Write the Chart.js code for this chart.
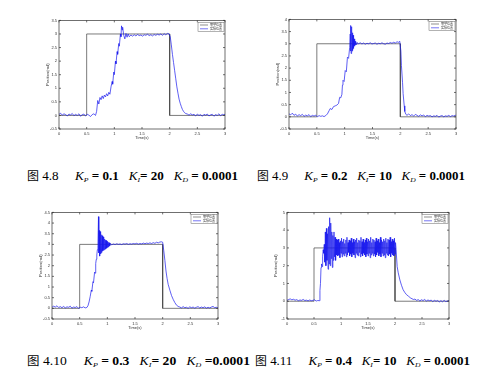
<!DOCTYPE html>
<html>
<head>
<meta charset="utf-8">
<script src="https://cdn.jsdelivr.net/npm/chart.js@4.4.0/dist/chart.umd.min.js"></script>
<style>
body { margin: 0; background: #fff; width: 500px; height: 369px; overflow: hidden; position: relative; }
canvas { position: absolute; }
.cap { position: absolute; font-family: 'Liberation Serif', 'Noto Sans CJK SC', serif; font-size: 12px; line-height: 12px; color: #000; white-space: pre; transform-origin: 0 50%; }
.cap b { font-weight: bold; }
.cap i { font-style: italic; }
.cap sub { font-style: italic; font-size: 7px; vertical-align: -2px; line-height: 0; }
.cap .zh { font-family: 'Noto Sans CJK SC', sans-serif; font-size: 11px; }
</style>
</head>
<body>
<script>
// setpoint signal, same in all four runs
const stepTime = [0, 0.5, 0.5, 2, 2, 3];
const stepLevel = [0, 0, 3, 3, 0, 0];

// Fig 4.8  Kp=0.1 Ki=20
const p1Time = [
  0,0.03,0.06,0.09,0.12,0.15,0.18,0.21,0.24,0.27,0.3,0.33,0.36,0.39,0.42,0.45,0.48,0.51,0.54,0.57,0.6,0.63,0.66,
  0.68,0.7,0.72,0.74,0.76,0.78,0.8,0.82,0.84,0.86,0.88,0.9,0.92,0.94,0.96,0.97,0.99,1,1.02,1.03,1.05,1.06,1.08,1.09,1.11,1.12,1.13,1.14,1.15,1.17,1.19,1.21,1.23,1.25,1.27,
  1.3,1.33,1.36,1.39,1.42,1.45,1.48,1.51,1.54,1.57,1.6,1.63,1.66,1.69,1.72,1.75,1.78,1.81,1.84,1.87,1.9,1.93,1.96,1.99,
  2.01,2.03,2.05,2.07,2.09,2.11,2.13,2.15,2.17,2.19,2.21,2.23,2.25,2.27,2.29,
  2.32,2.35,2.38,2.41,2.44,2.47,2.5,2.53,2.56,2.59,2.62,2.65,2.68,2.71,2.74,2.77,2.8,2.83,2.86,2.89,2.92,2.95,2.98,3
];
const p1Resp = [
  0.04,0.08,0.01,0.06,0.03,-0.02,0.05,0.02,0.07,-0.01,0.04,0,0.06,-0.03,0.03,0.05,-0.02,0.04,0.01,-0.04,0.03,0.06,0,
  0.15,0.55,0.42,0.66,0.58,0.72,0.62,0.75,0.68,0.8,0.72,0.85,0.78,1.05,1.25,1.15,1.6,1.5,2,1.9,2.35,2.25,2.65,2.55,3,2.9,3.3,3.15,3.25,2.95,2.82,3.02,2.88,3,2.9,
  2.96,2.92,2.97,2.93,2.98,2.94,2.96,2.92,2.97,2.95,2.99,2.94,2.97,2.93,2.98,2.95,2.99,2.96,3,2.95,3.01,2.97,3.02,3,
  2.9,2.6,2.25,1.95,1.65,1.35,1.05,0.82,0.6,0.45,0.33,0.22,0.15,0.1,0.07,
  0.05,0.01,0.06,0.02,0.04,-0.02,0.05,0,0.03,-0.03,0.04,0.01,0.05,-0.02,0.02,0.04,-0.03,0.03,0,0.06,-0.01,0.04,0.02,0.05
];

// Fig 4.9  Kp=0.2 Ki=10
const p2Time = [
  0,0.03,0.06,0.09,0.12,0.15,0.18,0.21,0.24,0.27,0.3,0.33,0.36,0.39,0.42,0.45,0.48,0.51,0.54,0.57,0.6,0.63,
  0.66,0.69,0.72,0.74,0.77,0.8,0.83,0.86,0.89,0.91,0.93,0.95,0.96,0.97,0.99,1.01,1.03,1.05,1.07,1.09,
  1.1,1.105,1.11,1.115,1.12,1.125,1.13,1.135,1.14,1.145,1.15,1.155,1.16,1.165,1.17,1.175,1.18,1.185,1.19,1.195,1.2,1.21,1.22,
  1.25,1.28,1.31,1.34,1.37,1.4,1.43,1.46,1.49,1.52,1.55,1.58,1.61,1.64,1.67,1.7,1.73,1.76,1.79,1.82,1.85,1.88,1.91,1.94,1.97,1.99,
  2.01,2.02,2.04,2.05,2.07,2.08,2.1,2.12,
  2.15,2.18,2.21,2.24,2.27,2.3,2.33,2.36,2.39,2.42,2.45,2.48,2.51,2.54,2.57,2.6,2.63,2.66,2.69,2.72,2.75,2.78,2.81,2.84,2.87,2.9,2.93,2.96,2.99,3
];
const p2Resp = [
  0.12,0.08,0.15,0.06,0.11,0.03,0.09,0.05,0.1,0.02,0.07,0.04,0.09,0.01,0.06,0.03,0.07,0,0.05,0.02,0.04,0.01,
  0.05,0.12,0.25,0.34,0.3,0.42,0.45,0.48,0.55,0.8,0.78,0.92,1.3,1.5,1.45,1.9,1.85,2.45,2.4,2.85,
  3.4,2.7,3.75,2.6,3.7,2.65,3.55,2.7,3.45,2.75,3.35,2.8,3.25,2.85,3.2,2.9,3.15,2.93,3.1,2.95,3.08,2.97,3.05,
  3,3.04,2.99,3.03,2.98,3.02,3,3.04,2.99,3.01,3.03,2.98,3.02,3,3.04,3,2.98,3.03,3.01,3.05,3.02,3.06,3.03,3.08,3.06,3.1,
  2.7,2.1,1.4,0.95,0.45,0.22,0.1,0.06,
  0.12,0.05,0.09,0.03,0.1,0.06,0.02,0.08,0.04,0.07,0.01,0.06,0.03,0.05,0,0.04,0.02,0.06,-0.01,0.03,0.05,0,0.04,0.02,0.06,0.01,0.05,0.03,0.07,0.04
];

// Fig 4.10  Kp=0.3 Ki=20
const p3Time = [
  0,0.03,0.06,0.09,0.12,0.15,0.18,0.21,0.24,0.27,0.3,0.33,0.36,0.39,0.42,0.45,0.48,0.51,0.54,0.57,0.6,0.63,
  0.65,0.67,0.69,0.71,0.72,0.74,0.75,0.77,0.78,0.79,0.8,0.81,0.82,0.83,0.84,
  0.847,0.854,0.861,0.868,0.875,0.882,0.889,0.896,0.903,0.91,0.917,0.924,0.931,0.938,0.945,0.952,0.959,0.966,0.973,0.98,
  0.987,0.994,1.001,1.008,1.015,1.022,1.029,1.036,1.043,1.05,
  1.08,1.11,1.14,1.17,1.2,1.23,1.26,1.29,1.32,1.35,1.38,1.41,1.44,1.47,1.5,1.53,1.56,1.59,1.62,1.65,
  1.68,1.71,1.74,1.77,1.8,1.83,1.86,1.89,1.92,1.95,1.98,2,
  2.02,2.04,2.06,2.08,2.1,2.13,2.16,2.19,2.22,2.25,2.28,
  2.31,2.34,2.37,2.4,2.43,2.46,2.49,2.52,2.55,2.58,2.61,2.64,2.67,2.7,2.73,2.76,2.79,2.82,2.85,2.88,2.91,2.94,2.97,3
];
const p3Resp = [
  0.05,0.1,0.06,0.12,0.04,0.08,0.03,0.09,0.02,0.07,0.05,0.1,0.01,0.06,0.04,0.08,0,0.05,0.03,0.07,0.02,0.04,
  0.12,0.3,0.55,0.85,0.8,1.25,1.2,1.7,1.65,2.1,2.3,2.5,2.75,2.95,4.3,
  2.6,3.65,2.45,3.6,2.55,3.5,2.6,3.45,2.65,3.4,2.7,3.35,2.72,3.3,2.75,3.25,2.78,3.2,2.8,3.18,
  2.82,3.14,2.85,3.12,2.88,3.1,2.9,3.07,2.93,3.05,
  2.98,3.02,2.99,3.03,3,3.02,2.99,3.03,3.01,3.04,3,3.03,3.01,3.04,3.02,3.05,3.01,3.04,3.02,3.06,
  3.03,3.06,3.04,3.07,3.04,3.08,3.05,3.1,3.07,3.11,3.12,3.1,
  2.7,2.25,1.75,1.4,1.12,0.85,0.6,0.42,0.27,0.15,0.09,
  0.06,0.02,0.08,0.03,0.05,0,0.07,0.03,0.06,0.01,0.05,0.08,0.02,0.06,0.03,0.07,0.01,0.05,0.02,0.06,0.09,0.03,0.05,0.02
];

// Fig 4.11  Kp=0.4 Ki=10
const p4Time = [
  0,0.03,0.06,0.09,0.12,0.15,0.18,0.21,0.24,0.27,0.3,0.33,0.36,0.39,0.42,0.45,0.48,0.51,0.54,0.57,
  0.6,0.61,0.62,0.63,0.64,0.65,0.66,0.67,0.68,0.69,
  0.7,0.71,0.72,0.73,0.74,0.75,0.76,0.77,0.78,0.79,
  0.8,0.81,0.82,0.83,0.84,0.85,0.86,0.87,0.88,0.89,
  0.9,0.91,0.92,0.93,0.94,0.95,0.96,0.97,0.98,0.99,
  1,1.01,1.02,1.03,1.04,1.05,1.06,1.07,1.08,1.09,
  1.1,1.11,1.12,1.13,1.14,1.15,1.16,1.17,1.18,1.19,
  1.2,1.21,1.22,1.23,1.24,1.25,1.26,1.27,1.28,1.29,
  1.3,1.31,1.32,1.33,1.34,1.35,1.36,1.37,1.38,1.39,
  1.4,1.41,1.42,1.43,1.44,1.45,1.46,1.47,1.48,1.49,
  1.5,1.51,1.52,1.53,1.54,1.55,1.56,1.57,1.58,1.59,
  1.6,1.61,1.62,1.63,1.64,1.65,1.66,1.67,1.68,1.69,
  1.7,1.71,1.72,1.73,1.74,1.75,1.76,1.77,1.78,1.79,
  1.8,1.81,1.82,1.83,1.84,1.85,1.86,1.87,1.88,1.89,
  1.9,1.91,1.92,1.93,1.94,1.95,1.96,1.97,1.98,1.99,
  2,2.01,
  2.02,2.04,2.06,2.09,2.12,2.15,2.18,2.21,2.25,2.29,2.34,
  2.37,2.4,2.43,2.46,2.49,2.52,2.55,2.58,2.61,2.64,2.67,2.7,2.73,2.76,2.79,2.82,2.85,2.88,2.91,2.94,2.97,3
];
const p4Resp = [
  0.05,0.1,0.13,0.08,0.11,0.06,0.09,0.03,0.07,0.05,0.1,0.04,0.06,0.02,0.07,0.03,0.05,0.08,0.01,0.04,
  0.03,0.6,1,1.9,2.1,1.95,2.5,2.9,2.7,3.2,
  2.2,3.9,2,4.1,2.3,3.8,1.8,4.2,2.1,4.7,
  2,4.4,2.4,3.9,1.9,3.7,2.3,3.9,2.5,3.6,
  2.3,3.5,2.6,3.45,2.55,3.5,2.6,3.3,2.45,3.4,
  2.7,3.55,2.5,3.35,2.65,3.5,2.55,3.25,2.7,3.45,
  2.5,3.6,2.6,3.3,2.75,3.45,2.55,3.4,2.65,3.55,
  2.5,3.3,2.7,3.5,2.6,3.35,2.45,3.45,2.7,3.55,
  2.6,3.3,2.55,3.45,2.75,3.4,2.5,3.6,2.65,3.35,
  2.55,3.5,2.7,3.3,2.6,3.45,2.5,3.55,2.65,3.35,
  2.55,3.5,2.7,3.4,2.45,3.6,2.6,3.3,2.7,3.5,
  2.55,3.45,2.65,3.35,2.5,3.55,2.6,3.4,2.75,3.5,
  2.55,3.3,2.65,3.6,2.5,3.45,2.7,3.35,2.55,3.5,
  2.6,3.4,2.45,3.55,2.7,3.3,2.6,3.5,2.55,3.45,
  2.65,3.6,2.5,3.35,2.7,3.5,2.6,3.4,2.55,3.55,
  2.65,3.3,
  2.9,1.95,1.6,1.2,0.9,0.65,0.5,0.38,0.28,0.18,0.1,
  0.12,0.05,0.09,0.02,0.08,0.04,0.1,0.01,0.07,0.03,0.06,-0.02,0.05,0,0.04,-0.04,0.03,-0.03,0.05,-0.02,0.01,0.04
];

// y axis [min, max, step] per figure
const p1Y = [-0.5, 3.5, 0.5];
const p2Y = [-0.5, 4, 0.5];
const p3Y = [-0.5, 4.5, 0.5];
const p4Y = [-1, 5, 1];

const legendNames = ['期望位置', '实际位置'];

// figure captions: number, Kp, Ki, Kd
const figNums = ['4.8', '4.9', '4.10', '4.11'];
const gainKp = ['0.1', '0.2', '0.3', '0.4'];
const gainKi = ['20', '10', '20', '10'];
const gainKd = ['0.0001', '0.0001', '0.0001', '0.0001'];

Chart.defaults.font.family = "'Liberation Sans', sans-serif";

const YW = 14;   // room left of the plot box
const XH = 11;   // room under the plot box

function pts(t, v) {
  if (t.length !== v.length) throw new Error('length mismatch ' + t.length + ' vs ' + v.length);
  return t.map((x, i) => ({ x: x, y: v[i] }));
}

// matlab style frame, inward ticks and the small legend box
const matlabFrame = {
  id: 'matlabFrame',
  afterDraw(chart) {
    const ctx = chart.ctx, a = chart.chartArea;
    const sx = chart.scales.x, sy = chart.scales.y;
    ctx.save();
    ctx.strokeStyle = '#333';
    ctx.lineWidth = 0.7;
    ctx.strokeRect(a.left, a.top, a.right - a.left, a.bottom - a.top);
    ctx.beginPath();
    sx.ticks.forEach(t => {
      const p = sx.getPixelForValue(t.value);
      ctx.moveTo(p, a.bottom); ctx.lineTo(p, a.bottom - 2);
      ctx.moveTo(p, a.top); ctx.lineTo(p, a.top + 2);
    });
    sy.ticks.forEach(t => {
      const p = sy.getPixelForValue(t.value);
      ctx.moveTo(a.left, p); ctx.lineTo(a.left + 2, p);
      ctx.moveTo(a.right, p); ctx.lineTo(a.right - 2, p);
    });
    ctx.stroke();

    const lx = a.right - 27, ly = a.top + 2;
    ctx.fillStyle = '#fff';
    ctx.fillRect(lx, ly, 26, 9);
    ctx.strokeStyle = '#666';
    ctx.lineWidth = 0.5;
    ctx.strokeRect(lx, ly, 26, 9);
    chart.data.datasets.forEach((d, i) => {
      const yy = ly + 2.6 + i * 3.8;
      ctx.strokeStyle = d.borderColor;
      ctx.lineWidth = 0.6;
      ctx.beginPath();
      ctx.moveTo(lx + 2, yy); ctx.lineTo(lx + 10, yy);
      ctx.stroke();
      ctx.fillStyle = '#333';
      ctx.font = "3px 'Noto Sans CJK SC'";
      ctx.textBaseline = 'middle';
      ctx.fillText(d.label, lx + 12, yy);
    });
    ctx.restore();
  }
};

function drawPanel(area, time, resp, yr) {
  const c = document.createElement('canvas');
  c.width = area[2] - area[0] + YW + 4;
  c.height = area[3] - area[1] + XH + 4;
  c.style.left = (area[0] - YW) + 'px';
  c.style.top = (area[1] - 4) + 'px';
  document.body.appendChild(c);
  const tickFont = { size: 4 };
  new Chart(c.getContext('2d'), {
    type: 'line',
    data: {
      datasets: [{
        label: legendNames[0],
        data: pts(stepTime, stepLevel),
        borderColor: '#444',
        borderWidth: 0.7,
        order: 1
      }, {
        label: legendNames[1],
        data: pts(time, resp),
        borderColor: '#1a1aee',
        borderWidth: 0.7,
        order: 0
      }]
    },
    options: {
      responsive: false,
      animation: false,
      events: [],
      layout: { padding: { top: 4, right: 4, left: 0, bottom: 0 } },
      plugins: { legend: { display: false }, tooltip: { enabled: false } },
      elements: { point: { radius: 0 }, line: { tension: 0 } },
      scales: {
        x: {
          type: 'linear', min: 0, max: 3,
          afterFit: s => { s.height = XH; },
          grid: { display: false, drawTicks: false }, border: { display: false },
          ticks: { stepSize: 0.5, font: tickFont, color: '#333', padding: 2, maxRotation: 0, autoSkip: false,
                   callback: v => String(Math.round(v * 10) / 10) },
          title: { display: true, text: 'Time(s)', font: tickFont, color: '#333', padding: 0 }
        },
        y: {
          min: yr[0], max: yr[1],
          afterFit: s => { s.width = YW; },
          grid: { display: false, drawTicks: false }, border: { display: false },
          ticks: { stepSize: yr[2], font: tickFont, color: '#333', padding: 2, autoSkip: false,
                   callback: v => String(Math.round(v * 10) / 10) },
          title: { display: true, text: 'Position(rad)', font: tickFont, color: '#333', padding: 0 }
        }
      }
    },
    plugins: [matlabFrame]
  });
}

drawPanel([59, 20, 225, 129], p1Time, p1Resp, p1Y);
drawPanel([289, 19, 456, 129], p2Time, p2Resp, p2Y);
drawPanel([52, 212, 218, 319], p3Time, p3Resp, p3Y);
drawPanel([287, 212, 449, 319], p4Time, p4Resp, p4Y);

// caption spans: left edge, right edge, vertical centre
const capBoxes = [[27, 238, 175], [257, 465, 175], [27, 250, 360], [255, 470, 360]];
capBoxes.forEach((box, i) => {
  const d = document.createElement('div');
  d.className = 'cap';
  const eqD = i === 2 ? ' =' : ' = ';
  d.innerHTML = '<span class="zh">图</span> ' + figNums[i] + '     ' +
    '<i>K</i><sub>P</sub><b> = ' + gainKp[i] + '</b>   ' +
    '<i>K</i><sub>I</sub><b>= ' + gainKi[i] + '</b>   ' +
    '<i>K</i><sub>D</sub><b>' + eqD + gainKd[i] + '</b>';
  d.style.left = box[0] + 'px';
  d.style.top = (box[2] - 6) + 'px';
  document.body.appendChild(d);
  const w = d.getBoundingClientRect().width;
  d.style.transform = 'scaleX(' + ((box[1] - box[0]) / w).toFixed(3) + ')';
});
</script>
</body>
</html>
